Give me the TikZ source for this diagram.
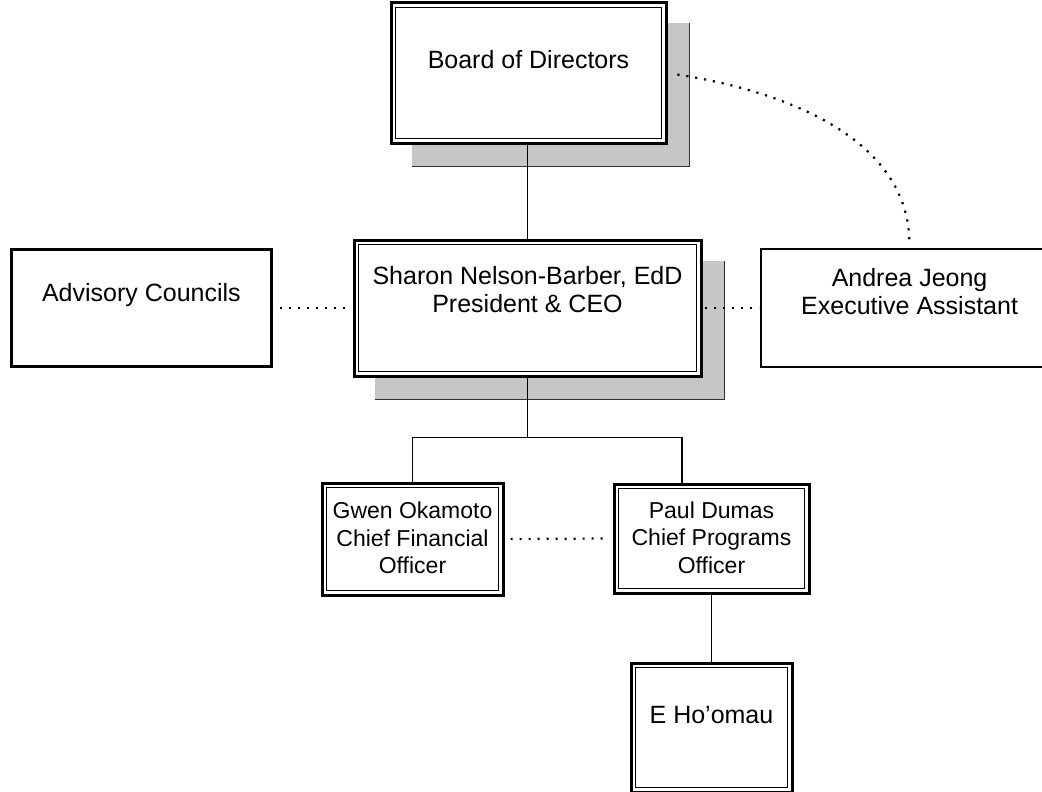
\documentclass[tikz,border=0pt]{standalone}
\usepackage{fontspec}
\setmainfont{Liberation Sans}
\usetikzlibrary{positioning,calc,backgrounds}
\tikzset{
  org frame/.style={draw=black, line width=2.2pt, fill=white, inner sep=0pt},
  org double/.style={draw=black, line width=3pt, fill=white, inner sep=0pt,
    path picture={\draw[line width=1.4pt]
      ([shift={(4.6pt,-4.6pt)}]path picture bounding box.north west) rectangle
      ([shift={(-4.6pt,4.6pt)}]path picture bounding box.south east);}},
  org text/.style={align=center, inner sep=0pt, font=\fontsize{25}{28}\selectfont},
  org small/.style={align=center, inner sep=0pt, font=\fontsize{23}{27.5}\selectfont},
  org line/.style={line width=1.7pt},
  org dots/.style={line width=2.2pt, dash pattern=on 2.2pt off 6.8pt},
  org shade/.style={fill=gray!45},
  org shade edge/.style={line width=1pt, black!80}
}

\begin{document}
\begin{tikzpicture}[x=1pt, y=-1pt]
\useasboundingbox (0,0) rectangle (1042,792);
% boxes
\node[org double, minimum width=347pt, minimum height=136pt] (ceo) at (527.5,308) {};
\node[org double, minimum width=275pt, minimum height=140pt, above=94pt of ceo, xshift=1pt] (board) {};
\node[org frame, minimum width=260pt, minimum height=117pt, left=80pt of ceo] (advisory) {};
\node[org frame, minimum width=298pt, minimum height=118pt, right=57pt of ceo] (andrea) {};
\node[org double, minimum width=181pt, minimum height=112pt] (gwen) at (412.5,539) {};
\node[org double, minimum width=195pt, minimum height=109pt] (paul) at (711.5,538.5) {};
\node[org double, minimum width=161pt, minimum height=129pt, below=67pt of paul] (hoomau) {};
% texts
\node[org text] (board txt) at ([yshift=13pt]board.center) {Board of Directors};
\node[org text] (ceo txt) at ([yshift=18pt]ceo.center) {Sharon Nelson-Barber, EdD\\President \& CEO};
\node[org text] (advisory txt) at ([yshift=13pt]advisory.center) {Advisory Councils};
\node[org text] (andrea txt) at ([yshift=16pt]andrea.center) {Andrea Jeong\\Executive Assistant};
\node[org small] (gwen txt) at ([yshift=1pt]gwen.center) {Gwen Okamoto\\Chief Financial\\Officer};
\node[org small] (paul txt) at ([yshift=1pt]paul.center) {Paul Dumas\\Chief Programs\\Officer};
\node[org text] (hoomau txt) at ([yshift=12pt]hoomau.center) {E Ho’omau};
% shadows
\begin{scope}[on background layer]
  \foreach \who in {board,ceo}{
    \fill[org shade] ([shift={(22pt,-22pt)}]\who.north west) rectangle ([shift={(22pt,-22pt)}]\who.south east);
    \draw[org shade edge] ([shift={(22pt,-22pt)}]\who.north east) |- ([shift={(22pt,-22pt)}]\who.south west);
  }
\end{scope}
% solid lines
\draw[org line] (ceo.north |- board.south) -- (ceo.north);
\draw[org line] (ceo.south) -- ++(0,60) coordinate (fork);
\draw[org line] (gwen.north) |- (fork) -| ([xshift=-29.5pt]paul.north);
\draw[org line] (paul.south) -- (hoomau.north);
% dotted lines
\draw[org dots, shorten <=7pt, shorten >=5pt] (advisory.east) -- (ceo.west);
\draw[org dots, shorten <=2pt, shorten >=1pt] (ceo.east) -- (andrea.west);
\draw[org dots, shorten <=6pt, shorten >=5pt] (gwen.east) -- (paul.west);
\draw[org dots, shorten <=10pt, shorten >=7pt] (board.east) .. controls (790,92) and (907,140) .. (andrea.north);
\end{tikzpicture}
\end{document}
